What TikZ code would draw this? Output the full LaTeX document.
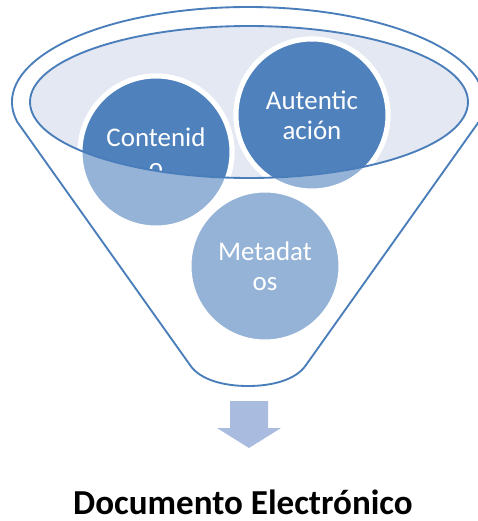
\documentclass[tikz,border=0pt]{standalone}
\usepackage{fontspec}
\setmainfont{Carlito}
\definecolor{funnelline}{HTML}{4A7EBB}
\definecolor{funnelfill}{HTML}{E3E8F2}
\definecolor{balldark}{HTML}{4F81BD}
\definecolor{balllight}{HTML}{95B3D7}
\definecolor{arrowfill}{HTML}{A9BCDF}
\tikzset{
  ball/.style={circle,draw=white,line width=3.75pt,minimum size=114pt,inner sep=0pt,
    text=white,font=\fontsize{20.2}{22.5}\selectfont,align=center},
}
\begin{document}
\begin{tikzpicture}[x=0.75pt,y=0.75pt,line width=1.4pt,line join=round]
  \useasboundingbox (0,0) rectangle (478,-521);
  \draw[funnelline] (248,-102) ++(192:236 and 95) arc (192:-12:236 and 95) -- (306,-365)
    .. controls (296,-380) and (272,-386) .. (248,-386)
    .. controls (224,-386) and (200,-380) .. (190,-365) -- cycle;
  \fill[funnelfill] (249,-102) ellipse (219 and 76);
  \node[ball,fill=balllight] (Cont) at (156,-152) {};
  \node[ball,fill=balllight] (Aut) at (312,-115) {};
  \node[ball,fill=balllight] (Meta) at (265,-266) {Metadat\\os};
  \begin{scope}
    \clip (249,-102) ellipse (219 and 76);
    \node[ball,fill=balldark] (ContIn) at (Cont) {Contenid\\o};
    \node[ball,fill=balldark] (AutIn) at (Aut) {Autentic\\ación};
  \end{scope}
  \draw[funnelline] (249,-102) ellipse (219 and 76);
  \fill[arrowfill] (230,-401) -- (268,-401) -- (268,-428) -- (281,-428) -- (249,-448)
    -- (217,-428) -- (230,-428) -- cycle;
  \node[anchor=base,inner sep=1pt,font=\bfseries\fontsize{26.3}{30}\selectfont] (title) at (243,-514)
    {Documento Electrónico};
\end{tikzpicture}
\end{document}
